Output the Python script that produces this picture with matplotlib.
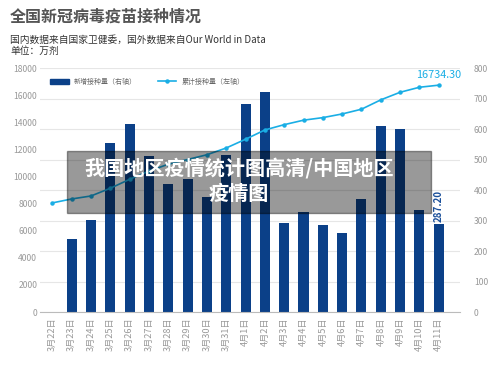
import matplotlib as mat
mat.use('Agg')
import matplotlib.pyplot as plt
from matplotlib.patches import Rectangle, Patch
from matplotlib.lines import Line2D
import numpy as np

plt.rcParams['font.family'] = ['Noto Sans CJK SC', 'DejaVu Sans']

# data
dates = ['3月22日', '3月23日', '3月24日', '3月25日', '3月26日', '3月27日', '3月28日',
         '3月29日', '3月30日', '3月31日', '4月1日', '4月2日', '4月3日', '4月4日',
         '4月5日', '4月6日', '4月7日', '4月8日', '4月9日', '4月10日', '4月11日']
new_doses = [0, 238, 302, 553, 616, 510, 419, 435, 376, 516, 681, 721,
             291, 327, 286, 260, 371, 610, 600, 333, 287.2]          # 万剂, right axis
total_doses = [8050, 8340, 8560, 9130, 9790, 10400, 10900, 11250, 11600, 12100,
               12745, 13430, 13820, 14150, 14340, 14610, 14960, 15650, 16210,
               16580, 16734.3]                                        # 万剂, left axis

bar_color = '#0b4088'
line_color = '#1aaee5'

fig = plt.figure(figsize=(5, 3.66), dpi=100)
ax2 = fig.add_axes([0.08, 0.1475, 0.84, 0.6667])
ax = ax2.twinx()
ax.yaxis.tick_left()
ax2.yaxis.tick_right()
ax.set_zorder(ax2.get_zorder() + 1)
ax.patch.set_visible(False)

x = np.arange(len(dates))
ax2.bar(x, new_doses, width=0.52, color=bar_color, zorder=2)
ax.plot(x, total_doses, color=line_color, lw=1.2, marker='o', ms=2.2, zorder=3)

ax.set_xlim(-0.64, 21.1)
ax.set_ylim(0, 18000)
ax2.set_ylim(0, 800)
ax.set_yticks(np.arange(0, 18001, 2000))
ax2.set_yticks(np.arange(0, 801, 100))
ax2.set_xticks(x)
ax2.set_xticklabels(dates, rotation=90, fontsize=6.6, color='#999999')

ax2.grid(axis='y', color='#e6e6e6', lw=0.8, zorder=0)
ax2.set_axisbelow(True)
for a in (ax, ax2):
    for s in a.spines.values():
        s.set_visible(False)
ax2.spines['bottom'].set_visible(True)
ax2.spines['bottom'].set_color('#bbbbbb')
ax2.spines['bottom'].set_linewidth(0.8)

ax.tick_params(axis='y', length=0, labelsize=6.2, labelcolor='#999999', pad=2)
ax2.tick_params(axis='y', length=0, labelsize=6.2, labelcolor='#999999', pad=10)
ax2.tick_params(axis='x', length=0, pad=4)
ax.tick_params(axis='x', length=0, labelbottom=False)

# value labels
ax.annotate('16734.30', (x[-1], total_doses[-1]), xytext=(0, 4), textcoords='offset points',
            ha='center', va='bottom', color=line_color, fontsize=7.8)
ax2.annotate('287.20', (x[-1], new_doses[-1]), xytext=(0, 2), textcoords='offset points',
             ha='center', va='bottom', rotation=90, color='#1a4f9a', fontsize=7, weight='bold')

handles = [Patch(color=bar_color, label='新增接种量（右轴）'),
           Line2D([0], [0], color=line_color, lw=1.2, marker='o', ms=2.2, label='累计接种量（左轴）')]
ax.legend(handles=handles, loc='upper left', bbox_to_anchor=(0.01, 0.985), ncol=2, frameon=False,
          fontsize=5, labelcolor='#666666', handlelength=2.6, handleheight=0.8, columnspacing=3)

# titles
fig.text(0.02, 1 - 17 / 366, '全国新冠病毒疫苗接种情况', fontsize=11.5, weight='bold',
         color='#555555', va='center')
fig.text(0.02, 1 - 40 / 366, '国内数据来自国家卫健委，国外数据来自Our World in Data', fontsize=7,
         color='#333333', va='center')
fig.text(0.02, 1 - 51 / 366, '单位：万剂', fontsize=7, color='#333333', va='center')

# overlay banner
fig.patches.append(Rectangle((67 / 500, 1 - 213 / 366), (431 - 67) / 500, 62 / 366,
                             transform=fig.transFigure, color='black', alpha=0.4, zorder=10))
fig.text(239 / 500, 1 - 168 / 366, '我国地区疫情统计图高清/中国地区', ha='center', va='center',
         color='white', fontsize=14.5, weight='bold', zorder=11)
fig.text(239 / 500, 1 - 193 / 366, '疫情图', ha='center', va='center',
         color='white', fontsize=14.5, weight='bold', zorder=11)

fig.savefig('out.png', dpi=100)
